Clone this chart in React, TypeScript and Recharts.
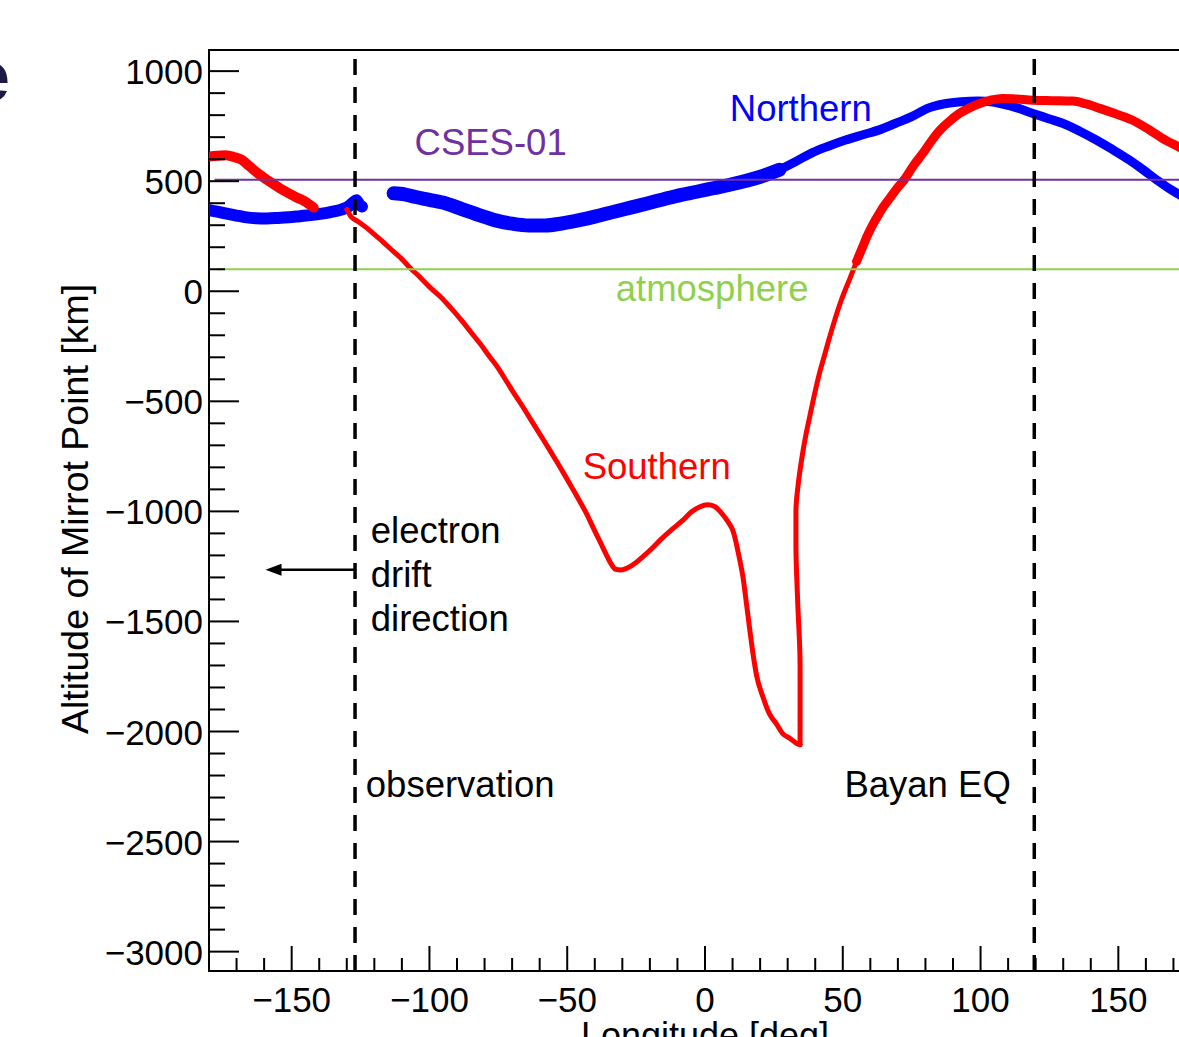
import React from 'react';
import { LineChart, Line, XAxis, YAxis, ReferenceLine, ReferenceArea, ReferenceDot } from 'recharts';

type Pt = [number, number];

const FONT = '"Liberation Sans", Arial, Helvetica, sans-serif';

// longitude [deg], altitude of mirror point [km]
const NORTH_WEST: Pt[] = [
  [-180, 369], [-177, 362], [-174, 354], [-170, 344], [-167, 337], [-163, 332], [-159, 331],
  [-155, 333], [-151, 336], [-147, 341], [-143, 346], [-139, 353], [-135.5, 361], [-132, 371],
  [-129.5, 384], [-127.5, 405], [-126.5, 414], [-125.5, 395], [-124.5, 385],
];

const NORTH_MID: Pt[] = [
  [-113, 445], [-109, 440], [-105, 428], [-100, 415], [-94, 399], [-88, 372], [-82, 346],
  [-76, 322], [-70, 307], [-64, 299], [-58, 299], [-52, 308], [-46, 322], [-40, 339],
  [-33, 361], [-27, 380], [-21, 399], [-15, 418], [-9, 437], [-3, 452], [3, 468], [9, 484],
  [15, 502], [21, 524], [27, 552],
];

const NORTH_EAST: Pt[] = [
  [27, 552], [33, 590], [39, 630], [45, 660], [51, 687], [57, 710], [63, 732], [69, 762],
  [75, 793], [81, 832], [87, 852], [93, 861], [99, 864], [104.5, 860], [108, 850], [112, 838],
  [119, 808], [125, 783], [130, 762], [136, 727], [142, 687], [148, 643], [154, 596],
  [159, 552], [164, 505], [168, 470], [172, 440], [176, 410], [180, 380],
];

const SOUTH_WEST: Pt[] = [
  [-180, 612], [-177, 616], [-174, 618], [-171, 610], [-168, 596], [-165.5, 570], [-163, 543],
  [-160, 515], [-157, 490], [-154, 466], [-151, 445], [-148, 425], [-145, 407], [-142, 380],
];

// descending branch down to the deepest point
const SOUTH_DIVE: Pt[] = [
  [-130, 372], [-128.5, 340], [-126, 318], [-123, 290], [-120, 258], [-116.5, 220], [-113, 180],
  [-110, 146], [-107, 106], [-103.5, 65], [-100, 20], [-96, -25], [-92.5, -72], [-88.5, -130],
  [-85, -185], [-81.5, -240], [-78, -300], [-75, -350], [-72, -410], [-69, -470], [-66, -527],
  [-63, -588], [-60, -648], [-57, -708], [-54, -770], [-51, -833], [-48, -898], [-45.5, -953],
  [-43, -1010], [-40.5, -1076], [-38, -1140], [-36, -1192], [-34, -1240], [-32.5, -1263],
  [-30.5, -1266], [-28, -1256], [-25, -1232], [-22, -1200], [-19, -1165], [-16, -1127],
  [-12, -1082], [-8, -1040], [-5, -1003], [-2, -980], [1, -970], [3.5, -978], [6, -1008],
  [8.5, -1050], [10.2, -1090], [12.6, -1220], [13.8, -1300], [15, -1415], [16.2, -1533],
  [17.4, -1645], [18.7, -1744], [21, -1842], [23.5, -1922], [25.9, -1965], [28.3, -2011],
  [30.7, -2030], [33, -2052], [34.5, -2060],
];

// steep rise back up to the atmosphere
const SOUTH_RISE: Pt[] = [
  [34.5, -2060], [34.5, -1700], [33.6, -1400], [33, -1150], [33, -1000], [33.8, -880],
  [35, -770], [36.5, -660], [38, -570], [39.8, -465], [41.6, -370], [43.5, -285], [45.3, -205],
  [47.1, -130], [48.9, -60], [50.7, 0], [52.5, 55], [55, 135],
];

const SOUTH_EAST: Pt[] = [
  [55, 135], [57, 195], [59, 255], [61, 305], [63, 348], [65, 388], [67, 422], [69.5, 465],
  [72.5, 510], [75.5, 568], [79, 626], [82, 680], [85, 728], [88.5, 770], [92, 805], [96, 833],
  [100, 854], [104, 869], [108, 876], [113, 873], [119, 868], [126, 866], [133.5, 864],
  [138, 852], [143, 832], [149, 806], [155, 778], [161, 735], [166, 695], [172, 655],
  [176, 628], [180, 600],
];

const CSES_ALT = 507;
const ATMOSPHERE_ALT = 100;
const OBSERVATION_LON = -127;
const BAYAN_EQ_LON = 119.5;

const X_TICKS = Array.from({ length: 35 }, (_, i) => -170 + i * 10);
const Y_TICKS = Array.from({ length: 41 }, (_, i) => -3000 + i * 100);

const rows = (pts: Pt[]) => pts.map(([lon, alt]) => ({ lon, alt }));
const fmt = (v: number) => (v < 0 ? `\u2212${-v}` : `${v}`);

const XTick = (props: any) => {
  const { x, y, payload } = props;
  const v = payload.value;
  const major = v % 50 === 0;
  return (
    <g>
      <line x1={x} x2={x} y1={y} y2={y - (major ? 25 : 13)} stroke="#000" strokeWidth={2} />
      {major && (
        <text x={x} y={y + 41} textAnchor="middle" fontSize={35} fontFamily={FONT} fill="#000">
          {fmt(v)}
        </text>
      )}
    </g>
  );
};

const YTick = (props: any) => {
  const { x, y, payload } = props;
  const v = payload.value;
  const major = v % 500 === 0;
  return (
    <g>
      <line x1={x} x2={x + (major ? 30 : 16)} y1={y} y2={y} stroke="#000" strokeWidth={2} />
      {major && (
        <text x={x - 6} y={y + 13} textAnchor="end" fontSize={35} fontFamily={FONT} fill="#000">
          {fmt(v)}
        </text>
      )}
    </g>
  );
};

const note = (text: string, color: string, anchor = 'start') => (p: any) => (
  <text x={p.cx} y={p.cy} fill={color} fontSize={36.5} fontFamily={FONT} textAnchor={anchor}>
    {text}
  </text>
);

const driftNote = (p: any) => (
  <text x={p.cx} y={p.cy} fill="#000" fontSize={36.5} fontFamily={FONT}>
    <tspan x={p.cx} dy={0}>electron</tspan>
    <tspan x={p.cx} dy={44}>drift</tspan>
    <tspan x={p.cx} dy={44}>direction</tspan>
  </text>
);

const Arrow = (p: any) => {
  const { x1, y1, x2, y2 } = p;
  return (
    <g>
      <line x1={x1} y1={y1} x2={x2 + 12} y2={y2} stroke="#000" strokeWidth={2.5} />
      <polygon points={`${x2},${y2} ${x2 + 16},${y2 - 6} ${x2 + 16},${y2 + 6}`} fill="#000" />
    </g>
  );
};

const series = (pts: Pt[], color: string, width: number, curve: any) => (
  <Line
    data={rows(pts)}
    dataKey="alt"
    type={curve}
    stroke={color}
    strokeWidth={width}
    dot={false}
    strokeLinecap="round"
    strokeLinejoin="round"
    isAnimationActive={false}
  />
);

export default function App() {
  return (
    <div
      style={{
        position: 'fixed',
        left: 0,
        top: 0,
        width: 1179,
        height: 1037,
        overflow: 'hidden',
        background: '#fff',
      }}
    >
      <svg style={{ position: 'absolute', left: 0, top: 0 }} width={40} height={120}>
        <text x={10} y={101} textAnchor="end" fontWeight="bold" fontSize={72} fontFamily={FONT} fill="#1c1a45">
          e
        </text>
      </svg>
      <LineChart width={1240} height={1037} margin={{ top: 50, right: 39, bottom: 0, left: 0 }}>
        <XAxis
          dataKey="lon"
          type="number"
          domain={[-180, 180]}
          allowDataOverflow
          ticks={X_TICKS}
          interval={0}
          tick={<XTick />}
          tickLine={false}
          tickSize={0}
          tickMargin={0}
          axisLine={false}
          height={66}
          label={() => (
            <text x={705} y={1048} textAnchor="middle" fontSize={36} fontFamily={FONT} fill="#000">
              Longitude [deg]
            </text>
          )}
        />
        <YAxis
          dataKey="alt"
          type="number"
          domain={[-3088, 1096]}
          allowDataOverflow
          ticks={Y_TICKS}
          interval={0}
          tick={<YTick />}
          tickLine={false}
          tickSize={0}
          tickMargin={0}
          axisLine={false}
          width={209}
          label={() => (
            <text
              x={88}
              y={509}
              transform="rotate(-90 88 509)"
              textAnchor="middle"
              fontSize={37.5}
              fontFamily={FONT}
              fill="#000"
            >
              Altitude of Mirrot Point [km]
            </text>
          )}
        />

        {series(NORTH_WEST, '#0000ff', 12, 'monotoneX')}
        {series(NORTH_MID, '#0000ff', 14, 'monotoneX')}
        {series(NORTH_EAST, '#0000ff', 9, 'monotoneX')}
        {series(SOUTH_WEST, '#ff0000', 10, 'monotoneX')}
        {series(SOUTH_DIVE, '#ff0000', 5, 'monotoneX')}
        {series(SOUTH_RISE, '#ff0000', 5, 'monotoneY')}
        {series(SOUTH_EAST, '#ff0000', 9, 'monotoneX')}

        <ReferenceLine segment={[{ x: -178, y: CSES_ALT }, { x: 180, y: CSES_ALT }]} stroke="#7030a0" strokeWidth={2} ifOverflow="visible" />
        <ReferenceLine segment={[{ x: -177, y: ATMOSPHERE_ALT }, { x: 180, y: ATMOSPHERE_ALT }]} stroke="#8fd14f" strokeWidth={2} ifOverflow="visible" />
        <ReferenceLine x={OBSERVATION_LON} stroke="#000" strokeWidth={3.5} strokeDasharray="16 12" />
        <ReferenceLine x={BAYAN_EQ_LON} stroke="#000" strokeWidth={3.5} strokeDasharray="16 12" />
        <ReferenceLine
          segment={[{ x: OBSERVATION_LON, y: -1265 }, { x: -159.5, y: -1265 }]}
          shape={Arrow}
          ifOverflow="visible"
        />

        <ReferenceDot x={9} y={773} r={0} shape={note('Northern', '#0000ff')} />
        <ReferenceDot x={-105.4} y={619} r={0} shape={note('CSES-01', '#7030a0')} />
        <ReferenceDot x={-32.4} y={-45} r={0} shape={note('atmosphere', '#8fd14f')} />
        <ReferenceDot x={-44.4} y={-853} r={0} shape={note('Southern', '#ff0000')} />
        <ReferenceDot x={-121.3} y={-1144} r={0} shape={driftNote} />
        <ReferenceDot x={-123.1} y={-2297} r={0} shape={note('observation', '#000')} />
        <ReferenceDot x={50.6} y={-2297} r={0} shape={note('Bayan EQ', '#000')} />

        <ReferenceArea x1={-180} x2={180} y1={-3088} y2={1096} fill="none" stroke="#000" strokeWidth={2} ifOverflow="visible" />
      </LineChart>
    </div>
  );
}
